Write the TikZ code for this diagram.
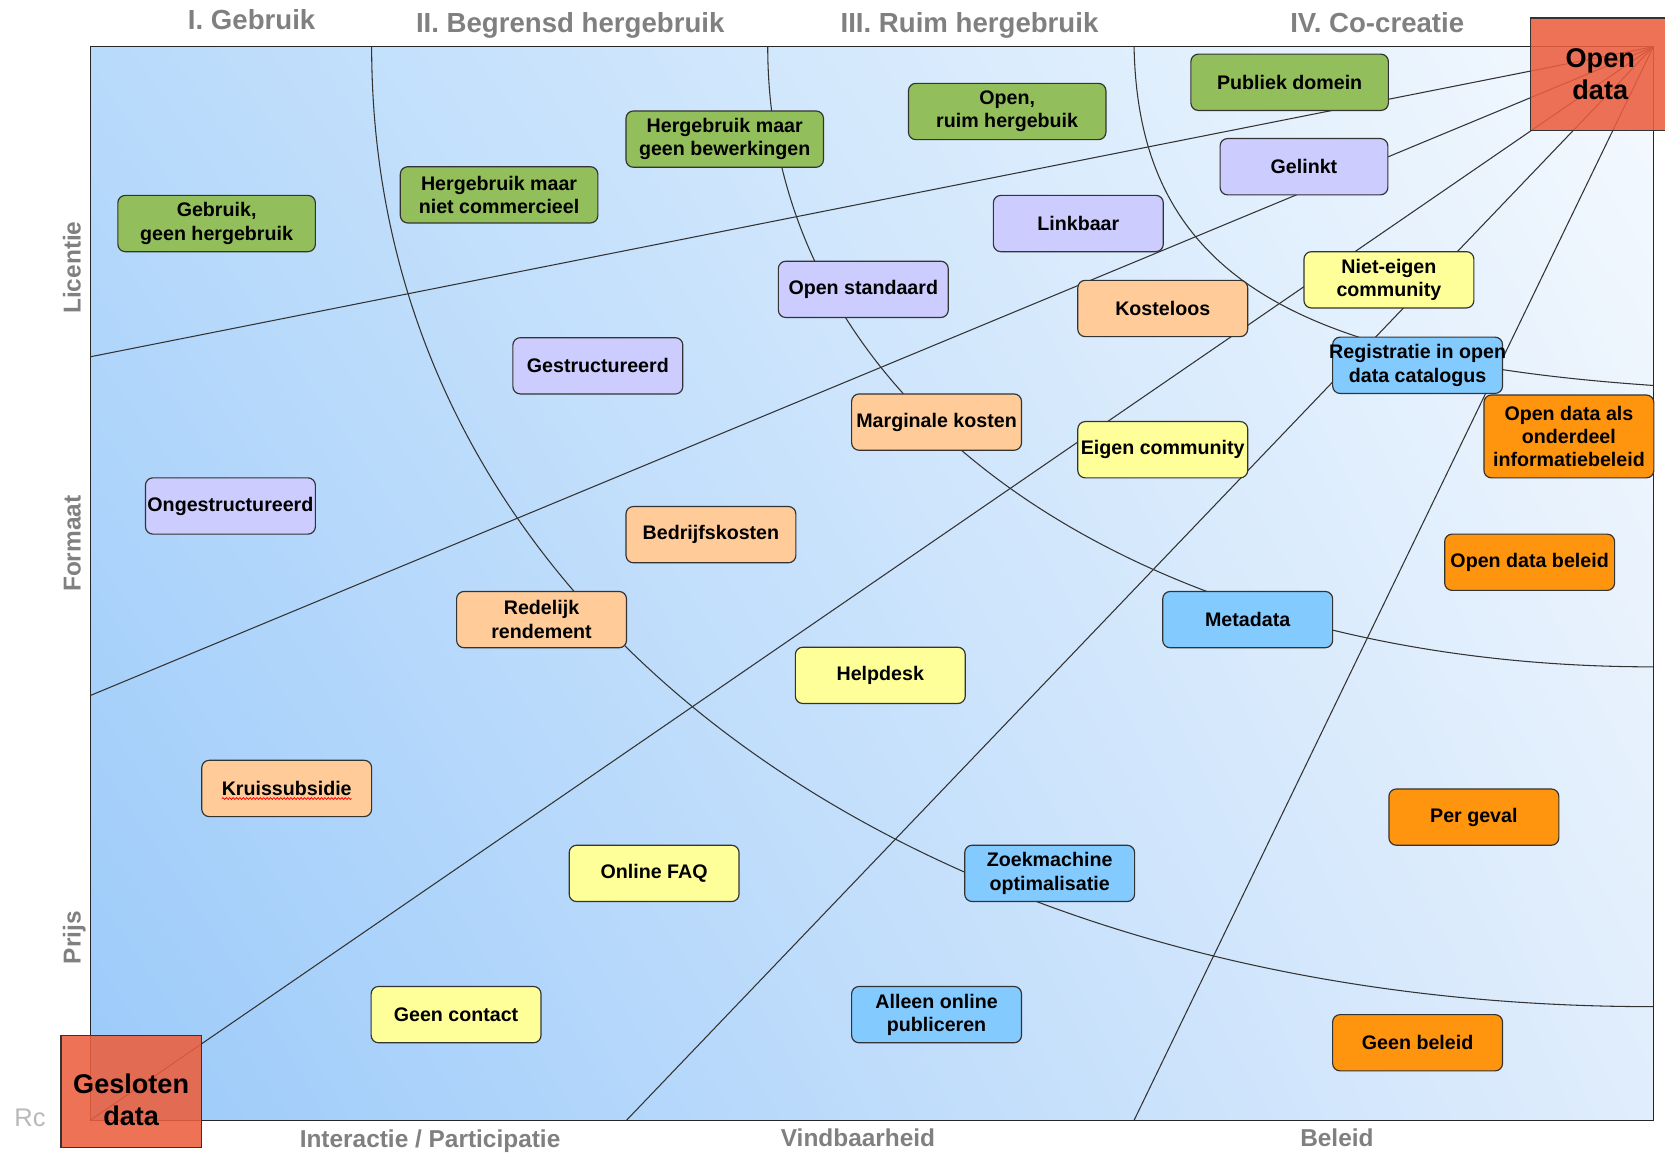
\documentclass[tikz,border=0pt]{standalone}
\usepackage{fontspec}
\setmainfont{Liberation Sans}
\usetikzlibrary{calc,shadings,decorations.pathmorphing}

\definecolor{lgreen}{RGB}{146,190,91}
\definecolor{lviolet}{RGB}{204,204,255}
\definecolor{lpeach}{RGB}{255,204,153}
\definecolor{lyellow}{RGB}{255,255,153}
\definecolor{lblue}{RGB}{131,202,255}
\definecolor{lorange}{RGB}{255,149,14}
\definecolor{lred}{RGB}{236,94,62}
\definecolor{axisgray}{RGB}{128,128,128}
\definecolor{bgll}{RGB}{155,202,250}
\definecolor{bgul}{RGB}{184,218,251}
\definecolor{bgur}{RGB}{244,249,254}
\definecolor{bglr}{RGB}{224,237,252}

\begin{document}
\begin{tikzpicture}[x=1pt,y=-1pt,
  box/.style={draw=black!80,line width=1.1pt,rounded corners=7pt,minimum width=160pt,minimum height=53pt,inner sep=1pt,align=center,font=\fontsize{18.5}{22}\selectfont\bfseries},
  widebox/.style={box,minimum width=186pt},
  datablock/.style={draw=black!80,line width=1.1pt,fill=lred,fill opacity=0.88,text opacity=1,minimum width=132pt,minimum height=106pt,inner sep=0pt,align=center,font=\fontsize{25.5}{30}\selectfont\bfseries},
  title/.style={text=axisgray,font=\fontsize{26}{30}\selectfont\bfseries,anchor=base},
  axislabel/.style={text=axisgray,font=\fontsize{23}{26}\selectfont\bfseries,anchor=base},
  grid/.style={draw=black!80,line width=1pt}]
\useasboundingbox (0,0) rectangle (1568,1085);

% background field
\shade[upper left=bgul,upper right=bgur,lower left=bgll,lower right=bglr] (85,44) rectangle (1557,1055);

\begin{scope}
  \clip (85,44) rectangle (1557,1055);
  \coordinate (tr) at (1557,44);
  \coordinate (r1) at (85,336);
  \coordinate (r2) at (85,655);
  \coordinate (r3) at (85,1055);
  \coordinate (r4) at (590,1055);
  \coordinate (r5) at (1068,1055);
  \path[grid] (tr) edge (r1)
                   edge (r2)
                   edge (r3)
                   edge (r4)
                   edge (r5);
  % rings
  \draw[grid] (1068,44) .. controls (1072,260) and (1220,340) .. (1557,363);
  \draw[grid] (723,44)  .. controls (723,394)  and (1082,628) .. (1557,628);
  \draw[grid] (350,44)  .. controls (350,586)  and (869,948)  .. (1557,948);
\end{scope}
\draw[draw=black!85,line width=1.3pt] (85,44) rectangle (1557,1055);

\node[text=black!28,font=\fontsize{24}{26}\selectfont,anchor=base west] (rc) at (10,1061) {Rc};

% licentie
\node[widebox,fill=lgreen]  (gebruik)   at (204,210.5)  {Gebruik,\\geen hergebruik};
\node[widebox,fill=lgreen]  (nietcom)   at (470,183.5)  {Hergebruik maar\\niet commercieel};
\node[widebox,fill=lgreen]  (geenbew)   at (682.5,131)  {Hergebruik maar\\geen bewerkingen};
\node[widebox,fill=lgreen]  (ruim)      at (948.5,105)  {Open,\\ruim hergebuik};
\node[widebox,fill=lgreen]  (publiek)   at (1214.5,77.5) {Publiek domein};
% formaat
\node[box,fill=lviolet]     (ongestr)   at (217,476.5)  {Ongestructureerd};
\node[box,fill=lviolet]     (gestr)     at (563,344.5)  {Gestructureerd};
\node[box,fill=lviolet]     (openstd)   at (813,272.5)  {Open standaard};
\node[box,fill=lviolet]     (linkbaar)  at (1015.5,210.5) {Linkbaar};
\node[box,fill=lviolet,minimum width=158pt] (gelinkt) at (1228,157) {Gelinkt};
% prijs
\node[box,fill=lpeach]      (kruis)     at (270,742.5)  {Kruissubsidie};
\node[box,fill=lpeach]      (redelijk)  at (510,583.5)  {Redelijk\\rendement};
\node[box,fill=lpeach]      (bedrijf)   at (669.5,503.5) {Bedrijfskosten};
\node[box,fill=lpeach]      (marginaal) at (882,397.5)  {Marginale kosten};
\node[box,fill=lpeach]      (kosteloos) at (1095,290.5) {Kosteloos};
\draw[red,line width=0.7pt,decorate,decoration={snake,amplitude=0.9pt,segment length=3.2pt}]
      ($(kruis.center)+(-61,9.5)$) -- ($(kruis.center)+(61,9.5)$);
% interactie
\node[box,fill=lyellow]     (contact)   at (429.5,955.5) {Geen contact};
\node[box,fill=lyellow]     (faq)       at (616,822.5)  {Online FAQ};
\node[box,fill=lyellow]     (helpdesk)  at (829,636)    {Helpdesk};
\node[box,fill=lyellow]     (eigen)     at (1095,423.5) {Eigen community};
\node[box,fill=lyellow]     (nieteigen) at (1308,263.5) {Niet-eigen\\community};
% vindbaarheid
\node[box,fill=lblue]       (alleen)    at (882,955.5)  {Alleen online\\publiceren};
\node[box,fill=lblue]       (zoek)      at (988.5,822.5) {Zoekmachine\\optimalisatie};
\node[box,fill=lblue]       (metadata)  at (1175,583.5) {Metadata};
\node[box,fill=lblue]       (registr)   at (1335,344)   {\makebox[150pt]{Registratie in open}\\data catalogus};
% beleid
\node[box,fill=lorange]     (geenbel)   at (1335,982)   {Geen beleid};
\node[box,fill=lorange]     (pergeval)  at (1388,769.5) {Per geval};
\node[box,fill=lorange]     (odbeleid)  at (1440.5,529.5) {Open data beleid};
\node[box,fill=lorange,minimum height=78pt] (onderdeel) at (1477.5,411) {Open data als\\onderdeel\\informatiebeleid};

\node[datablock] (open)     at (1507,70)    {Open\\data};
\node[datablock] (gesloten) at (123.5,1028) {\rule{0pt}{34pt}Gesloten\\data};

\node[title] (fase1) at (237,28) {I. Gebruik};
\node[title] (fase2) at (537,31) {II. Begrensd hergebruik};
\node[title] (fase3) at (913,31) {III. Ruim hergebruik};
\node[title] (fase4) at (1297,31) {IV. Co-creatie};

\node[axislabel,rotate=90] (licentie) at (76,252) {Licentie};
\node[axislabel,rotate=90] (formaat)  at (76,512) {Formaat};
\node[axislabel,rotate=90] (prijs)    at (76,883) {Prijs};

\node[axislabel] (interactie)   at (405,1081)  {Interactie / Participatie};
\node[axislabel] (vindbaarheid) at (808,1080)  {Vindbaarheid};
\node[axislabel] (beleid)       at (1259,1080) {Beleid};
\end{tikzpicture}
\end{document}
